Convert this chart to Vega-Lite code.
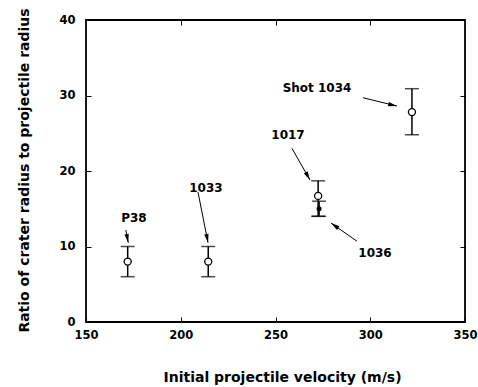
{
  "$schema": "https://vega.github.io/schema/vega-lite/v6.json",
  "width": 379,
  "height": 302,
  "autosize": "none",
  "padding": {"left": 86, "top": 20, "right": 13, "bottom": 65},
  "background": "white",
  "config": {
    "view": {"stroke": "black", "strokeWidth": 1.8},
    "font": "DejaVu Sans",
    "axis": {
      "grid": false,
      "domain": false,
      "tickColor": "black",
      "tickSize": -5,
      "tickWidth": 1,
      "labelFont": "DejaVu Sans",
      "labelFontWeight": "bold",
      "labelFontSize": 11.5,
      "labelColor": "black",
      "titleFont": "DejaVu Sans",
      "titleFontWeight": "bold",
      "titleFontSize": 14,
      "titleColor": "black"
    }
  },
  "resolve": {"axis": {"x": "independent", "y": "independent"}},
  "datasets": {
    "pts": [
      {"shot": "P38", "v": 172, "r": 8, "lo": 6, "hi": 10, "kind": "open"},
      {"shot": "1033", "v": 214.5, "r": 8, "lo": 6, "hi": 10, "kind": "open"},
      {"shot": "1017", "v": 272.5, "r": 16.7, "lo": 14, "hi": 18.7, "kind": "open"},
      {"shot": "1036", "v": 273, "r": 15, "lo": 14, "hi": 16, "kind": "filled"},
      {"shot": "Shot 1034", "v": 322, "r": 27.8, "lo": 24.8, "hi": 30.9, "kind": "open"}
    ],
    "notes": [
      {"label": "P38", "tx": 175.3, "ty": 13.8, "ax": 171, "ay": 12.2, "bx": 172.3, "by": 10.5},
      {"label": "1033", "tx": 213.3, "ty": 17.7, "ax": 209.1, "ay": 17.2, "bx": 214.4, "by": 10.5},
      {"label": "1017", "tx": 256.6, "ty": 24.8, "ax": 258.7, "ay": 23.0, "bx": 268.2, "by": 18.8},
      {"label": "1036", "tx": 302.5, "ty": 9.1, "ax": 293.0, "ay": 10.7, "bx": 279.3, "by": 13.1},
      {"label": "Shot 1034", "tx": 271.9, "ty": 31.0, "ax": 296.2, "ay": 29.7, "bx": 314.1, "by": 28.6}
    ]
  },
  "layer": [
    {
      "data": {"values": [{"a": 0}]},
      "mark": {"type": "rule", "opacity": 0},
      "encoding": {
        "x": {"datum": 150, "type": "quantitative", "scale": {"domain": [150, 350], "nice": false, "zero": false}, "axis": {"orient": "top", "values": [200, 250, 300], "labels": false, "title": null}},
        "y": {"datum": 0, "type": "quantitative", "scale": {"domain": [0, 40], "nice": false}, "axis": {"orient": "right", "values": [10, 20, 30], "labels": false, "title": null}}
      }
    },
    {
      "data": {"name": "pts"},
      "mark": {"type": "rule", "color": "black", "strokeWidth": 1.5},
      "encoding": {
        "x": {"field": "v", "type": "quantitative",
          "axis": {"orient": "bottom", "values": [150, 200, 250, 300, 350], "labelPadding": 12, "title": "Initial projectile velocity  (m/s)", "titlePadding": 30, "titleX": 196, "titleAlign": "center", "labelFlush": false}},
        "y": {"field": "lo", "type": "quantitative",
          "axis": {"orient": "left", "values": [0, 10, 20, 30, 40], "labelPadding": 16, "title": "Ratio of crater radius to projectile radius", "titlePadding": 27, "titleY": 150, "titleAlign": "center"}},
        "y2": {"field": "hi"}
      }
    },
    {
      "data": {"name": "pts"},
      "mark": {"type": "tick", "color": "black", "size": 14, "thickness": 1.5, "orient": "horizontal"},
      "encoding": {
        "x": {"field": "v", "type": "quantitative", "axis": null},
        "y": {"field": "lo", "type": "quantitative", "axis": null}
      }
    },
    {
      "data": {"name": "pts"},
      "mark": {"type": "tick", "color": "black", "size": 14, "thickness": 1.5, "orient": "horizontal"},
      "encoding": {
        "x": {"field": "v", "type": "quantitative", "axis": null},
        "y": {"field": "hi", "type": "quantitative", "axis": null}
      }
    },
    {
      "data": {"name": "pts"},
      "transform": [{"filter": "datum.kind === 'open'"}],
      "mark": {"type": "point", "shape": "circle", "filled": true, "fill": "white", "stroke": "black", "strokeWidth": 1.3, "size": 50, "opacity": 1},
      "encoding": {
        "x": {"field": "v", "type": "quantitative", "axis": null},
        "y": {"field": "r", "type": "quantitative", "axis": null}
      }
    },
    {
      "data": {"name": "pts"},
      "transform": [{"filter": "datum.kind === 'filled'"}],
      "mark": {"type": "point", "shape": "circle", "filled": true, "color": "black", "size": 25, "opacity": 1},
      "encoding": {
        "x": {"field": "v", "type": "quantitative", "axis": null},
        "y": {"field": "r", "type": "quantitative", "axis": null}
      }
    },
    {
      "data": {"name": "notes"},
      "mark": {"type": "rule", "color": "black", "strokeWidth": 1},
      "encoding": {
        "x": {"field": "ax", "type": "quantitative", "axis": null},
        "y": {"field": "ay", "type": "quantitative", "axis": null},
        "x2": {"field": "bx"},
        "y2": {"field": "by"}
      }
    },
    {
      "data": {"name": "notes"},
      "mark": {"type": "text", "font": "DejaVu Sans", "fontWeight": "bold", "fontSize": 12, "color": "black", "align": "center", "baseline": "middle"},
      "encoding": {
        "x": {"field": "tx", "type": "quantitative", "axis": null},
        "y": {"field": "ty", "type": "quantitative", "axis": null},
        "text": {"field": "label"}
      }
    },
    {
      "data": {"name": "notes"},
      "transform": [{"filter": "datum.label === 'P38' || datum.label === '1033'"}],
      "mark": {"type": "point", "shape": "M0,0L-0.4,-1.6L0.4,-1.6Z", "filled": true, "color": "black", "size": 120, "angle": -11, "opacity": 1},
      "encoding": {
        "x": {"field": "bx", "type": "quantitative", "axis": null},
        "y": {"field": "by", "type": "quantitative", "axis": null}
      }
    },
    {
      "data": {"name": "notes"},
      "transform": [{"filter": "datum.label === '1017'"}],
      "mark": {"type": "point", "shape": "M0,0L-0.4,-1.6L0.4,-1.6Z", "filled": true, "color": "black", "size": 120, "angle": -29, "opacity": 1},
      "encoding": {
        "x": {"field": "bx", "type": "quantitative", "axis": null},
        "y": {"field": "by", "type": "quantitative", "axis": null}
      }
    },
    {
      "data": {"name": "notes"},
      "transform": [{"filter": "datum.label === '1036'"}],
      "mark": {"type": "point", "shape": "M0,0L-0.4,-1.6L0.4,-1.6Z", "filled": true, "color": "black", "size": 120, "angle": 125, "opacity": 1},
      "encoding": {
        "x": {"field": "bx", "type": "quantitative", "axis": null},
        "y": {"field": "by", "type": "quantitative", "axis": null}
      }
    },
    {
      "data": {"name": "notes"},
      "transform": [{"filter": "datum.label === 'Shot 1034'"}],
      "mark": {"type": "point", "shape": "M0,0L-0.4,-1.6L0.4,-1.6Z", "filled": true, "color": "black", "size": 120, "angle": -77, "opacity": 1},
      "encoding": {
        "x": {"field": "bx", "type": "quantitative", "axis": null},
        "y": {"field": "by", "type": "quantitative", "axis": null}
      }
    }
  ]
}
